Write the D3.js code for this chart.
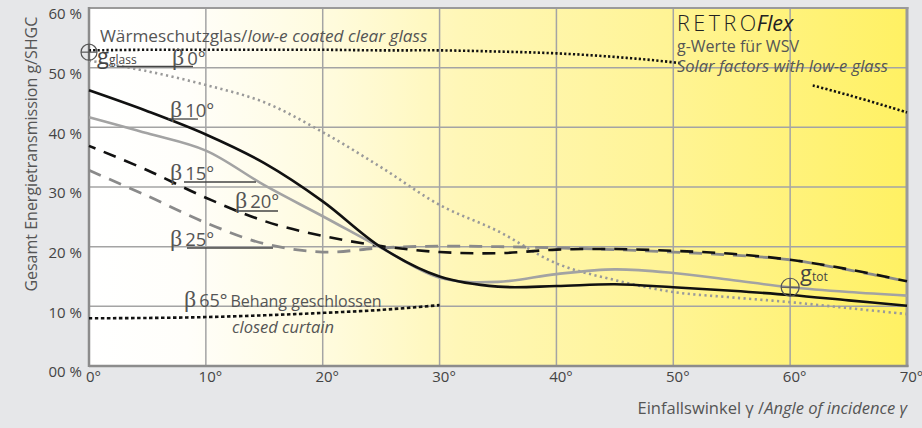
<!DOCTYPE html>
<html>
<head>
<meta charset="utf-8">
<script src="https://cdn.jsdelivr.net/npm/d3@7"></script>
<style>
  html, body { margin: 0; padding: 0; background: #e6e7e9; }
  svg { display: block; font-family: "Open Sans", "Noto Sans", sans-serif; }
</style>
</head>
<body>
<div id="chart"></div>
<script>
// angle of incidence (degrees)
const angles = [0, 5, 10, 15, 20, 25, 30, 35, 40, 45, 50, 55, 60, 65, 70];

// g-values in %
const glassLowE   = [52.9, 53.0, 53.0, 53.0, 53.0, 52.9, 52.9, 52.7, 52.4, 51.8, 50.9, 49.6, 47.9, 45.4, 42.5];
const glassCurve  = [51.2, 49.4, 47.1, 44.2, 39.2, 33.3, 27.0, 22.6, 17.2, 14.4, 12.4, 11.5, 10.7, 9.7, 8.7];
const beta10      = [46.2, 42.7, 38.8, 34.0, 27.6, 19.9, 15.0, 13.3, 13.4, 13.7, 13.2, 12.6, 11.9, 11.0, 10.1];
const beta15      = [41.7, 39.0, 36.1, 30.3, 25.1, 19.8, 14.8, 14.1, 15.4, 16.2, 15.6, 14.4, 13.2, 12.4, 11.8];
const beta20      = [36.9, 32.8, 28.2, 24.3, 21.8, 20.1, 19.1, 18.9, 19.5, 19.6, 19.3, 18.8, 17.8, 16.2, 14.2];
const beta25      = [32.8, 28.5, 24.0, 20.5, 19.1, 19.8, 20.1, 20.0, 19.8, 19.5, 19.1, 18.6, 17.8, 16.1, 14.2];
const curtainAngles = [0, 5, 10, 15, 20, 25, 30];
const beta65      = [8.0, 8.05, 8.2, 8.5, 8.9, 9.4, 10.2];

const xTicks = [0, 10, 20, 30, 40, 50, 60, 70];
const xTickLabels = ["0°", "10°", "20°", "30°", "40°", "50°", "60°", "70°"];
const yTicks = [0, 10, 20, 30, 40, 50, 60];
const yTickLabels = ["00 %", "10 %", "20 %", "30 %", "40 %", "50 %", "60 %"];

const W = 922, H = 428;
const margin = { top: 8, right: 15, bottom: 62, left: 89 };
const serif = "'Liberation Serif', 'DejaVu Serif', serif";

const svg = d3.select("#chart").append("svg")
    .attr("width", W).attr("height", H);

const x = d3.scaleLinear().domain([0, 70]).range([margin.left, W - margin.right]);
const y = d3.scaleLinear().domain([0, 60]).range([H - margin.bottom, margin.top]);

// background gradient
const defs = svg.append("defs");
const grad = defs.append("linearGradient").attr("id", "bg")
    .attr("x1", "0%").attr("x2", "100%").attr("y1", "0%").attr("y2", "0%");
[[0, "#ffffff"], [0.12, "#fffefa"], [0.3, "#fffbdc"], [0.45, "#fff7b8"], [0.7, "#fff496"], [1, "#fff163"]]
    .forEach(s => grad.append("stop").attr("offset", s[0]).attr("stop-color", s[1]));

svg.append("rect")
    .attr("x", x(0)).attr("y", y(60))
    .attr("width", x(70) - x(0)).attr("height", y(0) - y(60))
    .attr("fill", "url(#bg)");

// grid
const grid = svg.append("g").attr("stroke", "#a4a4a4").attr("stroke-width", 1.5);
grid.selectAll(".vg").data(xTicks.filter(d => d > 0 && d < 70)).enter().append("line")
    .attr("x1", d => x(d)).attr("x2", d => x(d))
    .attr("y1", y(60)).attr("y2", y(0));
grid.selectAll(".hg").data(yTicks.filter(d => d > 0 && d < 60)).enter().append("line")
    .attr("x1", x(0)).attr("x2", x(70))
    .attr("y1", d => y(d)).attr("y2", d => y(d));

// frame
svg.append("line").attr("x1", x(0)).attr("x2", x(70) + 1.5).attr("y1", y(60)).attr("y2", y(60))
    .attr("stroke", "#9a9a9a").attr("stroke-width", 2);
svg.append("line").attr("x1", x(70)).attr("x2", x(70)).attr("y1", y(60) - 1).attr("y2", y(0) + 1)
    .attr("stroke", "#9a9a9a").attr("stroke-width", 3);
svg.append("line").attr("x1", x(0)).attr("x2", x(70) + 1.5).attr("y1", y(0)).attr("y2", y(0))
    .attr("stroke", "#8c8c8c").attr("stroke-width", 2.5);
svg.append("line").attr("x1", x(0)).attr("x2", x(0)).attr("y1", y(60) - 1).attr("y2", y(0) + 1)
    .attr("stroke", "#8c8c8c").attr("stroke-width", 2.5);

// axes (labels only)
const yAxis = svg.append("g")
    .attr("transform", `translate(${x(0) - 4},0)`)
    .call(d3.axisLeft(y).tickValues(yTicks).tickSize(0)
        .tickFormat((d, i) => yTickLabels[i]));
yAxis.select(".domain").remove();
yAxis.selectAll("text")
    .attr("dy", "0.72em")
    .attr("font-size", 15).attr("fill", "#444")
    .attr("font-family", "'Open Sans', 'Noto Sans', sans-serif");

const xAxis = svg.append("g")
    .attr("transform", `translate(4,${y(0)})`)
    .call(d3.axisBottom(x).tickValues(xTicks).tickSize(0)
        .tickFormat((d, i) => xTickLabels[i]));
xAxis.select(".domain").remove();
xAxis.selectAll("text")
    .attr("dy", "0.88em")
    .attr("font-size", 15).attr("fill", "#444")
    .attr("font-family", "'Open Sans', 'Noto Sans', sans-serif");

// axis titles
svg.append("text")
    .attr("transform", `translate(37,${(y(60) + y(11)) / 2}) rotate(-90)`)
    .attr("text-anchor", "middle")
    .attr("font-size", 16).attr("fill", "#555")
    .text("Gesamt Energietransmission g/SHGC");

const xt = svg.append("text")
    .attr("x", x(70)).attr("y", 414)
    .attr("text-anchor", "end")
    .attr("font-size", 16.5).attr("fill", "#555");
xt.append("tspan").text("Einfallswinkel γ /");
xt.append("tspan").attr("font-style", "italic").text("Angle of incidence γ");

// lines
const line = (xs, ys) => d3.line()
    .x((d, i) => x(xs[i]))
    .y(d => y(d))
    .curve(d3.curveCatmullRom.alpha(0.5))(ys);

// mask for gap in top dotted line
const mask = defs.append("mask").attr("id", "gap");
mask.append("rect").attr("x", 0).attr("y", 0).attr("width", W).attr("height", H).attr("fill", "#fff");
mask.append("rect").attr("x", x(50.6)).attr("y", y(56)).attr("width", x(61.9) - x(50.6))
    .attr("height", y(44) - y(56)).attr("fill", "#000");

const plot = svg.append("g").attr("fill", "none");

plot.append("path").attr("d", line(angles, glassCurve))
    .attr("stroke", "#9a9a9a").attr("stroke-width", 2.6)
    .attr("stroke-dasharray", "2.2,3.4");

plot.append("path").attr("d", line(angles, beta25))
    .attr("stroke", "#8a8a8a").attr("stroke-width", 2.8)
    .attr("stroke-dasharray", "13,9");

plot.append("path").attr("d", line(angles, beta20))
    .attr("stroke", "#111").attr("stroke-width", 2.6)
    .attr("stroke-dasharray", "13,9").attr("stroke-dashoffset", 6);

plot.append("path").attr("d", line(angles, beta15))
    .attr("stroke", "#a3a3a3").attr("stroke-width", 2.6);

plot.append("path").attr("d", line(angles, beta10))
    .attr("stroke", "#111").attr("stroke-width", 2.6);

plot.append("path").attr("d", line(angles, glassLowE))
    .attr("stroke", "#111").attr("stroke-width", 2.6)
    .attr("stroke-dasharray", "2.2,2.2")
    .attr("mask", "url(#gap)");

plot.append("path").attr("d", line(curtainAngles, beta65))
    .attr("stroke", "#111").attr("stroke-width", 2.6)
    .attr("stroke-dasharray", "3.5,2.5");

// marker circles
const marker = (cx, cy, r) => {
    const g = svg.append("g").attr("stroke", "#555").attr("stroke-width", 1.2).attr("fill", "none");
    g.append("circle").attr("cx", cx).attr("cy", cy).attr("r", r);
    g.append("line").attr("x1", cx - r).attr("x2", cx + r).attr("y1", cy).attr("y2", cy);
    g.append("line").attr("x1", cx).attr("x2", cx).attr("y1", cy - r).attr("y2", cy + r);
};
marker(x(0), y(52.6), 8);
marker(x(60), y(beta15[12]), 9);

// annotations
const ann = svg.append("g").attr("fill", "#555");

const t1 = ann.append("text").attr("x", 100).attr("y", 42).attr("font-size", 17.2);
t1.append("tspan").text("Wärmeschutzglas/");
t1.append("tspan").attr("font-style", "italic").text("low-e coated clear glass");

const gg = ann.append("text").attr("x", 97).attr("y", 64).attr("fill", "#444");
gg.append("tspan").attr("font-size", 22).text("g");
gg.append("tspan").attr("font-size", 12).text("glass");

// beta labels with leader lines
const betaLabel = (bx, by, txt, ux1, ux2, uy) => {
    const t = ann.append("text").attr("x", bx).attr("y", by);
    t.append("tspan").attr("font-family", serif).attr("font-size", 24).text("β");
    t.append("tspan").attr("font-size", 18.5).attr("dx", 3).text(txt);
    svg.append("line").attr("x1", ux1).attr("x2", ux2).attr("y1", uy).attr("y2", uy)
        .attr("stroke", "#444").attr("stroke-width", 1.3);
};
betaLabel(172, 65, "0°", 117, 193, 66.5);
betaLabel(170, 117, "10°", 168, 198, 119);
betaLabel(170, 180, "15°", 184, 256, 182);
betaLabel(235, 208, "20°", 235, 278, 211);
betaLabel(170, 246, "25°", 187, 273, 248);

const c1 = ann.append("text").attr("x", 184).attr("y", 307);
c1.append("tspan").attr("font-family", serif).attr("font-size", 24).text("β");
c1.append("tspan").attr("font-size", 18).attr("dx", 3).text("65°");
c1.append("tspan").attr("font-size", 16).attr("dx", 3).text("Behang geschlossen");
ann.append("text").attr("x", 232).attr("y", 333).attr("font-size", 16.5)
    .attr("font-style", "italic").text("closed curtain");

// title block
const tt = svg.append("text").attr("x", 677).attr("y", 31).attr("font-size", 21.5).attr("fill", "#222");
tt.append("tspan").attr("font-weight", 300).attr("letter-spacing", 3.5).text("RETRO");
tt.append("tspan").attr("font-style", "italic").attr("dx", -3).text("Flex");
ann.append("text").attr("x", 677).attr("y", 52).attr("font-size", 16).text("g-Werte für WSV");
ann.append("text").attr("x", 677).attr("y", 72).attr("font-size", 16.5)
    .attr("font-style", "italic").text("Solar factors with low-e glass");

const gt = ann.append("text").attr("x", 800).attr("y", 281).attr("fill", "#444");
gt.append("tspan").attr("font-size", 22).text("g");
gt.append("tspan").attr("font-size", 12).text("tot");
</script>
</body>
</html>
